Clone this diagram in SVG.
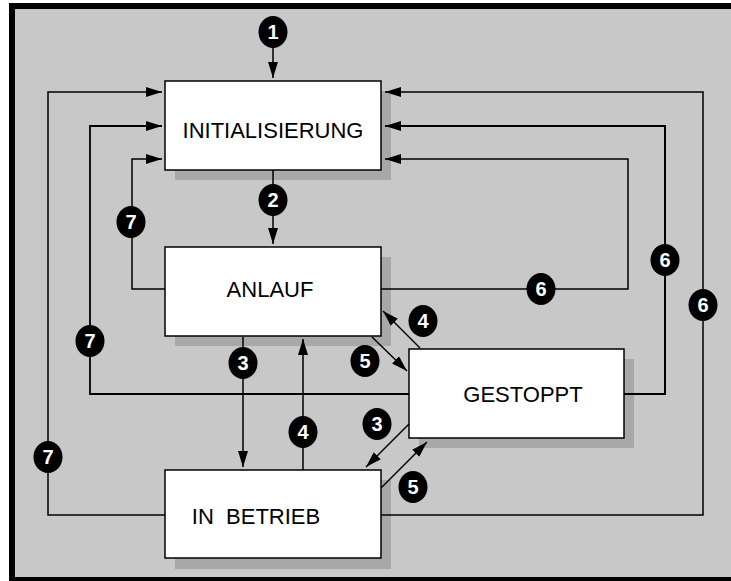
<svg xmlns="http://www.w3.org/2000/svg" width="731" height="581" viewBox="0 0 731 581">
<defs>
<marker id="ah" markerUnits="userSpaceOnUse" markerWidth="16" markerHeight="10" refX="16" refY="5" orient="auto">
<path d="M0,0 L16,5 L0,10 z" fill="#000"/>
</marker>
<style>
.shadow{fill:#a8a8a8}
.box{fill:#fff;stroke:#000;stroke-width:1.5}
.lbl{font-family:"Liberation Sans",Arial,sans-serif;font-size:22px;fill:#000;text-anchor:middle}
.ln{fill:none;stroke:#000;stroke-width:1.5}
.arr{fill:none;stroke:#000;stroke-width:1.5;marker-end:url(#ah)}
.badge ellipse{fill:#000}
.badge text{font-family:"Liberation Sans",Arial,sans-serif;font-size:20px;font-weight:bold;fill:#fff;text-anchor:middle}
</style>
</defs>
<rect x="0" y="0" width="731" height="581" fill="#fff"/>
<rect x="12" y="6" width="740" height="574" fill="#c8c8c8" stroke="#000" stroke-width="6"/>

<g id="node-init">
<rect class="shadow" x="175" y="91" width="216" height="89"/>
<rect class="box" x="165" y="81" width="216" height="89"/>
<text class="lbl" x="273" y="138">INITIALISIERUNG</text>
</g>
<g id="node-anlauf">
<rect class="shadow" x="175" y="257" width="216" height="89"/>
<rect class="box" x="165" y="247" width="216" height="89"/>
<text class="lbl" x="270" y="297">ANLAUF</text>
</g>
<g id="node-gestoppt">
<rect class="shadow" x="419" y="359" width="215" height="89"/>
<rect class="box" x="409" y="349" width="215" height="89"/>
<text class="lbl" x="523" y="402">GESTOPPT</text>
</g>
<g id="node-inbetrieb">
<rect class="shadow" x="175" y="480" width="216" height="89"/>
<rect class="box" x="165" y="470" width="216" height="88"/>
<text class="lbl" x="256" y="524" xml:space="preserve">IN  BETRIEB</text>
</g>

<g id="connectors">
<path class="arr" d="M273,40 V78"/>
<path class="arr" d="M273,170 V244"/>
<path class="arr" d="M165,289 H132 V159 H162"/>
<path class="arr" d="M381,289 H628 V159 H385"/>
<path class="arr" d="M409,394 H90 V126 H162" style="stroke-width:1.8"/>
<path class="arr" d="M624,394 H665 V126 H385" style="stroke-width:2"/>
<path class="arr" d="M165,515 H48 V92 H162"/>
<path class="arr" d="M381,515 H703 V92 H385"/>
<path class="arr" d="M243,337 V467"/>
<path class="arr" d="M303,470 V339"/>
<path class="arr" d="M420,348 L383,311"/>
<path class="arr" d="M372,337 L407,371"/>
<path class="arr" d="M409,424 L366,467"/>
<path class="arr" d="M381,488 L427,442"/>

<g class="badge"><ellipse cx="273" cy="32" rx="14.5" ry="16"/><text x="273" y="39">1</text></g>
<g class="badge"><ellipse cx="273" cy="200" rx="14.5" ry="16"/><text x="273" y="207">2</text></g>
<g class="badge"><ellipse cx="131" cy="222" rx="14.5" ry="16"/><text x="131" y="229">7</text></g>
<g class="badge"><ellipse cx="541" cy="289" rx="14.5" ry="16"/><text x="541" y="296">6</text></g>
<g class="badge"><ellipse cx="665" cy="260" rx="14.5" ry="16"/><text x="665" y="267">6</text></g>
<g class="badge"><ellipse cx="703" cy="305" rx="14.5" ry="16"/><text x="703" y="312">6</text></g>
<g class="badge"><ellipse cx="423" cy="321" rx="14.5" ry="16"/><text x="423" y="328">4</text></g>
<g class="badge"><ellipse cx="365" cy="361" rx="14.5" ry="16"/><text x="365" y="368">5</text></g>
<g class="badge"><ellipse cx="90" cy="341" rx="14.5" ry="16"/><text x="90" y="348">7</text></g>
<g class="badge"><ellipse cx="243" cy="363" rx="14.5" ry="16"/><text x="243" y="370">3</text></g>
<g class="badge"><ellipse cx="303" cy="432" rx="14.5" ry="16"/><text x="303" y="439">4</text></g>
<g class="badge"><ellipse cx="377" cy="424" rx="14.5" ry="16"/><text x="377" y="431">3</text></g>
<g class="badge"><ellipse cx="413" cy="487" rx="14.5" ry="16"/><text x="413" y="494">5</text></g>
<g class="badge"><ellipse cx="48" cy="457" rx="14.5" ry="16"/><text x="48" y="464">7</text></g>
</g>
</svg>
